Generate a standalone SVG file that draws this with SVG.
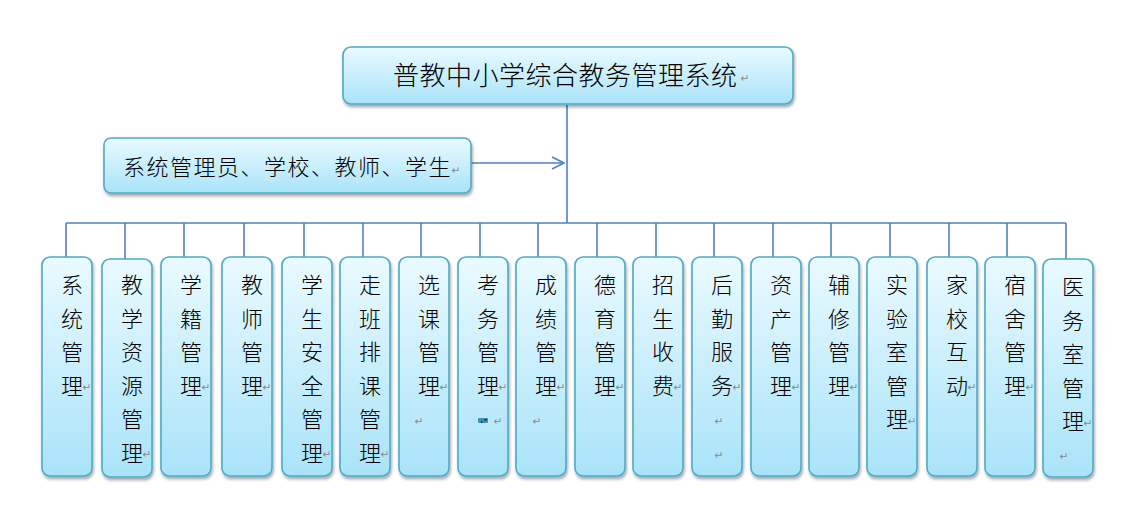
<svg xmlns="http://www.w3.org/2000/svg" width="1131" height="510" viewBox="0 0 1131 510">
<defs>
<linearGradient id="g" x1="0" y1="0" x2="0" y2="1">
<stop offset="0" stop-color="#eafaff"/>
<stop offset="1" stop-color="#a9e3f9"/>
</linearGradient>
<filter id="sh" x="-20%" y="-20%" width="140%" height="140%">
<feDropShadow dx="1" dy="2.5" stdDeviation="1.5" flood-color="#000" flood-opacity="0.35"/>
</filter>
<marker id="arr" markerWidth="14" markerHeight="14" refX="13" refY="7" orient="auto" markerUnits="userSpaceOnUse">
<path d="M1,1 L13,7 L1,13" fill="none" stroke="#4f81bd" stroke-width="1.6"/>
</marker>
<style>
.box{fill:url(#g);stroke:#4bacc6;stroke-width:1.6;filter:url(#sh)}
.t{font-family:"Noto Sans CJK SC","Noto Sans CJK JP",sans-serif;font-weight:300;fill:#000}
.c{font-size:22px;text-anchor:middle}
.m{font-family:"DejaVu Sans",sans-serif;font-size:10.5px;fill:#888;text-anchor:middle}
.ln{stroke:#4f81bd;stroke-width:1.6;fill:none}
</style>
</defs>
<g id="connectors">
<path class="ln" d="M567,105 V223"/>
<path class="ln" d="M471,163 H564" marker-end="url(#arr)"/>
<path class="ln" d="M66,223 H1066"/>
<path class="ln" d="M66,223V257 M125,223V259 M184,223V257 M244,223V257 M304,223V257 M363,223V257 M421,223V257 M480,223V257 M538,223V257 M597,223V257 M656,223V257 M714,223V257 M773,223V257 M831,223V257 M890,223V257 M949,223V257 M1007,223V257 M1066,223V259"/>
</g>
<g id="root">
<rect class="box" x="343" y="47" width="450" height="57" rx="8"/>
<text class="t" x="393" y="84.5" font-size="26" letter-spacing="0.5">普教中小学综合教务管理系统</text>
<text class="m" x="745" y="82">↵</text>
</g>
<g id="users">
<rect class="box" x="104" y="138" width="367" height="55" rx="7"/>
<text class="t" x="123" y="174.5" font-size="22" letter-spacing="1.5">系统管理员、学校、教师、学生</text>
<text class="m" x="456" y="174">↵</text>
</g>
<g id="n1"><rect class="box" x="42" y="257" width="50" height="219" rx="8"/>
<text class="t c"><tspan x="72" y="293">系</tspan><tspan x="72" y="326.5">统</tspan><tspan x="72" y="360">管</tspan><tspan x="72" y="393.5">理</tspan></text>
<text class="m" x="87" y="391">↵</text></g>
<g id="n2"><rect class="box" x="102" y="259" width="50" height="218" rx="8"/>
<text class="t c"><tspan x="132" y="293">教</tspan><tspan x="132" y="326.5">学</tspan><tspan x="132" y="360">资</tspan><tspan x="132" y="393.5">源</tspan><tspan x="132" y="427">管</tspan><tspan x="132" y="460.5">理</tspan></text>
<text class="m" x="147" y="458">↵</text></g>
<g id="n3"><rect class="box" x="161" y="257" width="50" height="219" rx="8"/>
<text class="t c"><tspan x="191" y="293">学</tspan><tspan x="191" y="326.5">籍</tspan><tspan x="191" y="360">管</tspan><tspan x="191" y="393.5">理</tspan></text>
<text class="m" x="206" y="391">↵</text></g>
<g id="n4"><rect class="box" x="222" y="257" width="50" height="219" rx="8"/>
<text class="t c"><tspan x="252" y="293">教</tspan><tspan x="252" y="326.5">师</tspan><tspan x="252" y="360">管</tspan><tspan x="252" y="393.5">理</tspan></text>
<text class="m" x="267" y="391">↵</text></g>
<g id="n5"><rect class="box" x="282" y="257" width="50" height="219" rx="8"/>
<text class="t c"><tspan x="312" y="293">学</tspan><tspan x="312" y="326.5">生</tspan><tspan x="312" y="360">安</tspan><tspan x="312" y="393.5">全</tspan><tspan x="312" y="427">管</tspan><tspan x="312" y="460.5">理</tspan></text>
<text class="m" x="327" y="458">↵</text></g>
<g id="n6"><rect class="box" x="340" y="257" width="50" height="219" rx="8"/>
<text class="t c"><tspan x="370" y="293">走</tspan><tspan x="370" y="326.5">班</tspan><tspan x="370" y="360">排</tspan><tspan x="370" y="393.5">课</tspan><tspan x="370" y="427">管</tspan><tspan x="370" y="460.5">理</tspan></text>
<text class="m" x="385" y="458">↵</text></g>
<g id="n7"><rect class="box" x="399" y="257" width="50" height="219" rx="8"/>
<text class="t c"><tspan x="429" y="293">选</tspan><tspan x="429" y="326.5">课</tspan><tspan x="429" y="360">管</tspan><tspan x="429" y="393.5">理</tspan></text>
<text class="m" x="444" y="391">↵</text><text class="m" x="419" y="425">↵</text></g>
<g id="n8"><rect class="box" x="458" y="257" width="50" height="219" rx="8"/>
<text class="t c"><tspan x="488" y="293">考</tspan><tspan x="488" y="326.5">务</tspan><tspan x="488" y="360">管</tspan><tspan x="488" y="393.5">理</tspan></text>
<text class="m" x="503" y="391">↵</text>
<rect x="478" y="418" width="10" height="5" rx="1" fill="#3d93b3"/><rect x="481" y="421" width="1.5" height="2" fill="#1a3d4a"/><rect x="484" y="419" width="3" height="1.5" fill="#1a3d4a"/>
<text class="m" x="498" y="425">↵</text></g>
<g id="n9"><rect class="box" x="516" y="257" width="50" height="219" rx="8"/>
<text class="t c"><tspan x="546" y="293">成</tspan><tspan x="546" y="326.5">绩</tspan><tspan x="546" y="360">管</tspan><tspan x="546" y="393.5">理</tspan></text>
<text class="m" x="561" y="391">↵</text><text class="m" x="537" y="425">↵</text></g>
<g id="n10"><rect class="box" x="575" y="257" width="50" height="219" rx="8"/>
<text class="t c"><tspan x="605" y="293">德</tspan><tspan x="605" y="326.5">育</tspan><tspan x="605" y="360">管</tspan><tspan x="605" y="393.5">理</tspan></text>
<text class="m" x="620" y="391">↵</text></g>
<g id="n11"><rect class="box" x="633" y="257" width="50" height="219" rx="8"/>
<text class="t c"><tspan x="663" y="293">招</tspan><tspan x="663" y="326.5">生</tspan><tspan x="663" y="360">收</tspan><tspan x="663" y="393.5">费</tspan></text>
<text class="m" x="678" y="391">↵</text></g>
<g id="n12"><rect class="box" x="692" y="257" width="50" height="219" rx="8"/>
<text class="t c"><tspan x="722" y="293">后</tspan><tspan x="722" y="326.5">勤</tspan><tspan x="722" y="360">服</tspan><tspan x="722" y="393.5">务</tspan></text>
<text class="m" x="737" y="391">↵</text><text class="m" x="719" y="425">↵</text><text class="m" x="719" y="459">↵</text></g>
<g id="n13"><rect class="box" x="751" y="257" width="50" height="219" rx="8"/>
<text class="t c"><tspan x="781" y="293">资</tspan><tspan x="781" y="326.5">产</tspan><tspan x="781" y="360">管</tspan><tspan x="781" y="393.5">理</tspan></text>
<text class="m" x="796" y="391">↵</text></g>
<g id="n14"><rect class="box" x="809" y="257" width="50" height="219" rx="8"/>
<text class="t c"><tspan x="839" y="293">辅</tspan><tspan x="839" y="326.5">修</tspan><tspan x="839" y="360">管</tspan><tspan x="839" y="393.5">理</tspan></text>
<text class="m" x="854" y="391">↵</text></g>
<g id="n15"><rect class="box" x="867" y="257" width="50" height="219" rx="8"/>
<text class="t c"><tspan x="897" y="293">实</tspan><tspan x="897" y="326.5">验</tspan><tspan x="897" y="360">室</tspan><tspan x="897" y="393.5">管</tspan><tspan x="897" y="427">理</tspan></text>
<text class="m" x="912" y="425">↵</text></g>
<g id="n16"><rect class="box" x="927" y="257" width="50" height="219" rx="8"/>
<text class="t c"><tspan x="957" y="293">家</tspan><tspan x="957" y="326.5">校</tspan><tspan x="957" y="360">互</tspan><tspan x="957" y="393.5">动</tspan></text>
<text class="m" x="972" y="391">↵</text></g>
<g id="n17"><rect class="box" x="985" y="257" width="50" height="219" rx="8"/>
<text class="t c"><tspan x="1015" y="293">宿</tspan><tspan x="1015" y="326.5">舍</tspan><tspan x="1015" y="360">管</tspan><tspan x="1015" y="393.5">理</tspan></text>
<text class="m" x="1030" y="391">↵</text></g>
<g id="n18"><rect class="box" x="1043" y="259" width="50" height="218" rx="8"/>
<text class="t c"><tspan x="1073" y="295">医</tspan><tspan x="1073" y="328.5">务</tspan><tspan x="1073" y="362">室</tspan><tspan x="1073" y="395.5">管</tspan><tspan x="1073" y="429">理</tspan></text>
<text class="m" x="1088" y="427">↵</text><text class="m" x="1064" y="460">↵</text></g>
</svg>
